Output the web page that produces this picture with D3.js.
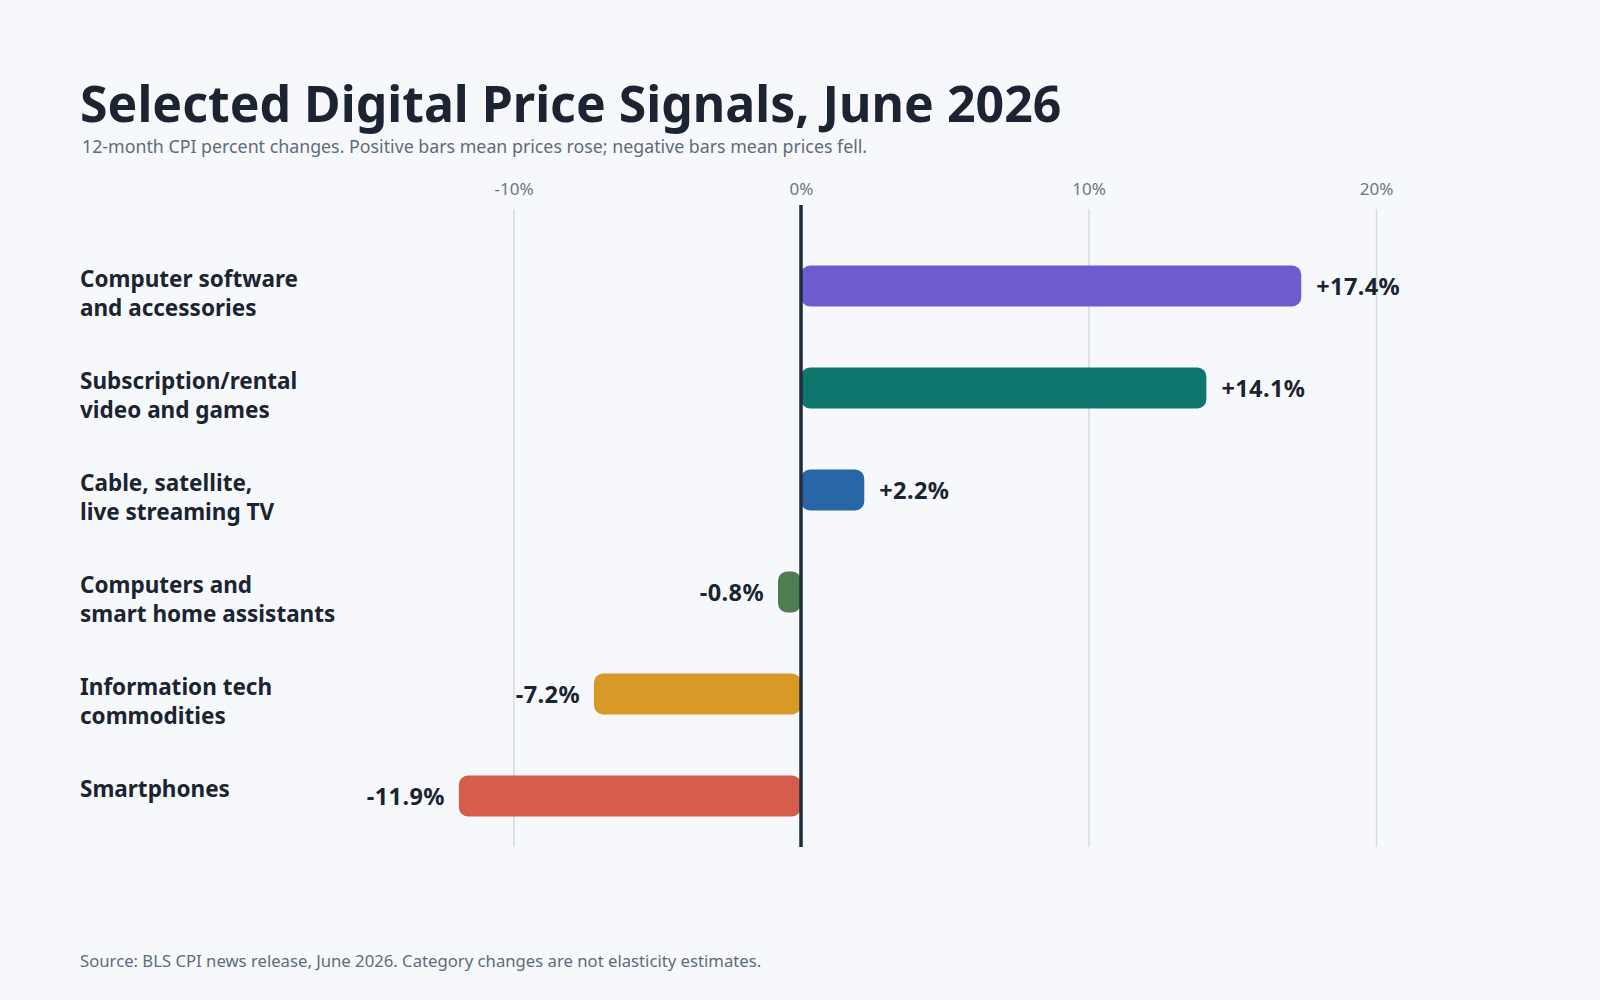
<!DOCTYPE html>
<html>
<head>
<meta charset="utf-8">
<script src="https://cdn.jsdelivr.net/npm/d3@7"></script>
<style>
  body { margin: 0; background: #f6f8fb; }
  svg { display: block; }
  text { font-family: "Noto Sans", "Open Sans", sans-serif; }
</style>
</head>
<body>
<div id="chart"></div>
<script>
const WIDTH = 1600
const HEIGHT = 1000

// data
const categories = [
    "Computer software|and accessories",
    "Subscription/rental|video and games",
    "Cable, satellite,|live streaming TV",
    "Computers and|smart home assistants",
    "Information tech|commodities",
    "Smartphones"
]
const changes = [17.4, 14.1, 2.2, -0.8, -7.2, -11.9]
const barColors = ["#6c5ccf", "#0f766e", "#2866a8", "#4e7d52", "#d89a26", "#d65d4c"]
const tickValues = [-10, 0, 10, 20]

const rows = categories.map((c, i) => ({name: c, value: changes[i], color: barColors[i]}))

let svg = d3.select("#chart")
    .append("svg")
    .attr("width", WIDTH)
    .attr("height", HEIGHT)

svg.append("rect")
    .attr("width", WIDTH)
    .attr("height", HEIGHT)
    .attr("fill", "#f6f8fb")

// header
svg.append("text")
    .attr("x", 80)
    .attr("y", 122)
    .attr("font-size", 50)
    .attr("font-weight", 700)
    .attr("fill", "#1b2430")
    .text("Selected Digital Price Signals, June 2026")

svg.append("text")
    .attr("x", 82)
    .attr("y", 153)
    .attr("font-size", 17.8)
    .attr("fill", "#5f6b7a")
    .text("12-month CPI percent changes. Positive bars mean prices rose; negative bars mean prices fell.")

let x = d3.scaleLinear()
    .domain([-15, 25])
    .range([801 - 15 * 28.75, 801 + 25 * 28.75])

let y = d3.scaleBand()
    .domain(rows.map(d => d.name))
    .range([235, 847])
    .padding(0)

const barH = 41
const gridTop = 209
const gridBottom = 847

// grid + tick labels
let axis = svg.append("g")
    .attr("transform", "translate(0," + gridTop + ")")
    .call(d3.axisTop(x)
        .tickValues(tickValues)
        .tickSize(-(gridBottom - gridTop))
        .tickPadding(14)
        .tickFormat(d => d + "%"))

axis.select(".domain").remove()
axis.selectAll(".tick line")
    .attr("stroke", "#d5dbe3")
    .attr("stroke-width", 1.5)
axis.selectAll(".tick text")
    .attr("font-size", 17)
    .attr("fill", "#6b7785")
    .style("font-family", "\"Noto Sans\", sans-serif")

// bars
svg.selectAll("rect.bar")
    .data(rows)
    .enter()
    .append("rect")
    .attr("class", "bar")
    .attr("x", d => x(Math.min(0, d.value)))
    .attr("y", d => y(d.name) + y.bandwidth() / 2 - barH / 2)
    .attr("width", d => Math.abs(x(d.value) - x(0)))
    .attr("height", barH)
    .attr("rx", 9)
    .attr("fill", d => d.color)

// zero line
svg.append("line")
    .attr("x1", x(0))
    .attr("x2", x(0))
    .attr("y1", gridTop - 4)
    .attr("y2", gridBottom)
    .attr("stroke", "#1f2d3d")
    .attr("stroke-width", 3.5)

// value labels
svg.selectAll("text.value")
    .data(rows)
    .enter()
    .append("text")
    .attr("class", "value")
    .attr("x", d => d.value >= 0 ? x(d.value) + 15 : x(d.value) - 14)
    .attr("y", d => y(d.name) + y.bandwidth() / 2 + 9)
    .attr("text-anchor", d => d.value >= 0 ? "start" : "end")
    .attr("font-size", 23.5)
    .attr("font-weight", 700)
    .attr("letter-spacing", 0.4)
    .attr("fill", "#1b2430")
    .text(d => (d.value > 0 ? "+" : "") + d.value.toFixed(1) + "%")

// category labels
let labels = svg.selectAll("text.cat")
    .data(rows)
    .enter()
    .append("text")
    .attr("class", "cat")
    .attr("x", 80)
    .attr("y", d => y(d.name) + y.bandwidth() / 2 + 1)
    .attr("font-size", 22.5)
    .attr("font-weight", 700)
    .attr("fill", "#1b2430")

labels.selectAll("tspan")
    .data(d => d.name.split("|"))
    .enter()
    .append("tspan")
    .attr("x", 80)
    .attr("dy", (d, i) => i === 0 ? 0 : 28.6)
    .text(d => d)

// footer
svg.append("text")
    .attr("x", 80)
    .attr("y", 967)
    .attr("font-size", 16.7)
    .attr("fill", "#5f6b7a")
    .text("Source: BLS CPI news release, June 2026. Category changes are not elasticity estimates.")
</script>
</body>
</html>
